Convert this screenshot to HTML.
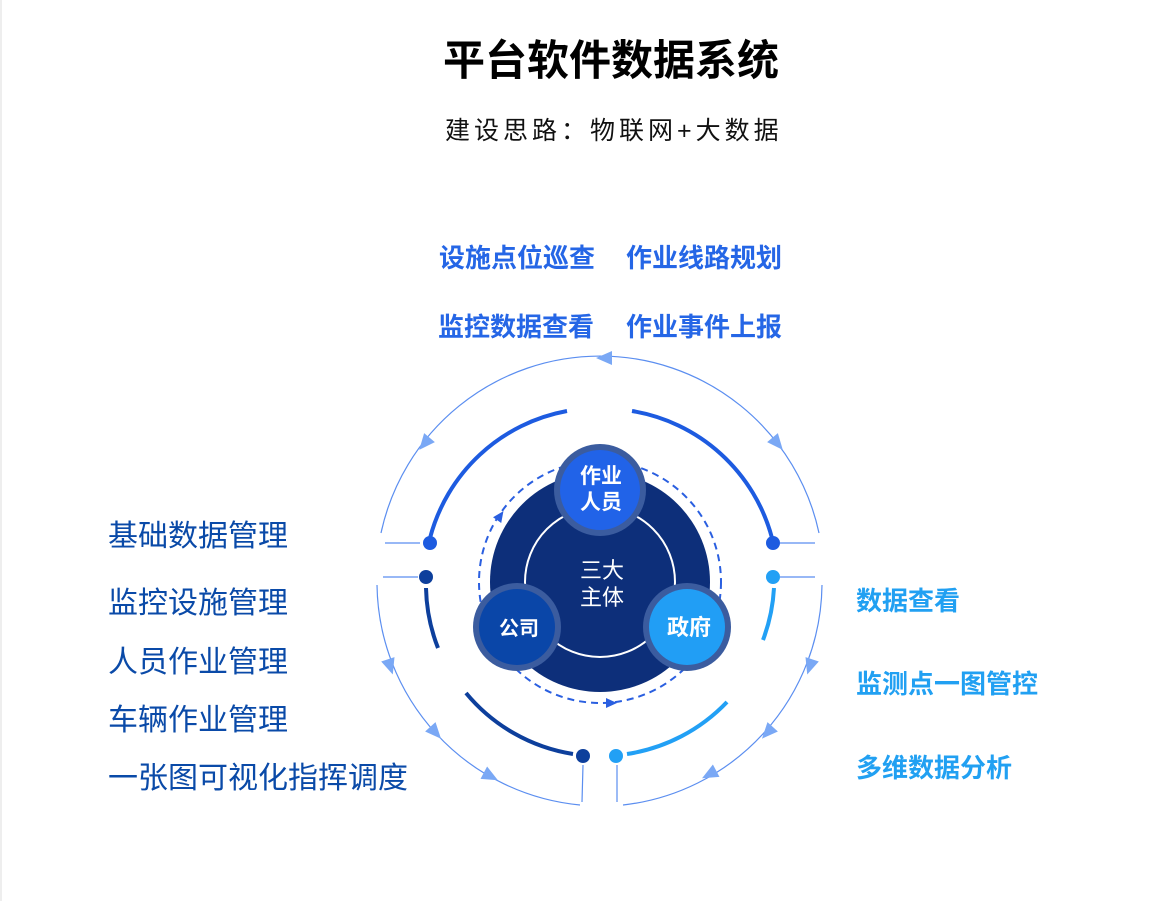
<!DOCTYPE html>
<html><head><meta charset="utf-8"><style>
html,body{margin:0;padding:0;background:#fff;}
body{width:1149px;height:901px;position:relative;overflow:hidden;font-family:"Liberation Sans","Noto Sans CJK SC",sans-serif;}
.t{position:absolute;white-space:nowrap;line-height:1;}
</style></head><body>
<div style="position:absolute;left:0;top:0;width:2px;height:901px;background:#eee"></div>
<div class="t" style="left:443px;top:40px;font-size:42px;font-weight:bold;color:#000">平台软件数据系统</div>
<div class="t" style="left:445px;top:119px;font-size:25px;color:#111;letter-spacing:4px">建设思路：物联网+大数据</div>

<div class="t" style="left:439px;top:245px;font-size:26px;font-weight:bold;color:#2566e6">设施点位巡查</div>
<div class="t" style="left:626px;top:245px;font-size:26px;font-weight:bold;color:#2566e6">作业线路规划</div>
<div class="t" style="left:438px;top:314px;font-size:26px;font-weight:bold;color:#2566e6">监控数据查看</div>
<div class="t" style="left:626px;top:314px;font-size:26px;font-weight:bold;color:#2566e6">作业事件上报</div>

<div class="t" style="left:108px;top:522px;font-size:30px;color:#0a4aa8">基础数据管理</div>
<div class="t" style="left:108px;top:589px;font-size:30px;color:#0a4aa8">监控设施管理</div>
<div class="t" style="left:108px;top:648px;font-size:30px;color:#0a4aa8">人员作业管理</div>
<div class="t" style="left:108px;top:706px;font-size:30px;color:#0a4aa8">车辆作业管理</div>
<div class="t" style="left:108px;top:764px;font-size:30px;color:#0a4aa8">一张图可视化指挥调度</div>

<div class="t" style="left:856px;top:588px;font-size:26px;font-weight:bold;color:#21a0f2">数据查看</div>
<div class="t" style="left:856px;top:671px;font-size:26px;font-weight:bold;color:#21a0f2">监测点一图管控</div>
<div class="t" style="left:856px;top:755px;font-size:26px;font-weight:bold;color:#21a0f2">多维数据分析</div>

<svg width="1149" height="901" style="position:absolute;left:0;top:0">
<g fill="none" stroke="#5b8ef0" stroke-width="1.2">
<path d="M381,533 A224,224 0 0 1 819,533"/>
<path d="M377,585 A224,224 0 0 0 580,805"/>
<path d="M623,805 A224,224 0 0 0 822,585"/>
<path d="M385,543 L420,543 M383,577 L418,577 M780,543 L815,543 M780,577 L815,577 M583,765 L582,802 M617,765 L617,802"/>
</g>
<g fill="#7aa8f5">
<polygon points="-7,-7 9,0 -7,7" transform="translate(605,358) rotate(180)"/>
<polygon points="-7,-7 9,0 -7,7" transform="translate(425,443) rotate(130)"/>
<polygon points="-7,-7 9,0 -7,7" transform="translate(777,443) rotate(50)"/>
<polygon points="-7,-7 9,0 -7,7" transform="translate(390,666) rotate(72)"/>
<polygon points="-7,-7 9,0 -7,7" transform="translate(435,732) rotate(48)"/>
<polygon points="-7,-7 9,0 -7,7" transform="translate(490,776) rotate(28)"/>
<polygon points="-7,-7 9,0 -7,7" transform="translate(810,666) rotate(108)"/>
<polygon points="-7,-7 9,0 -7,7" transform="translate(768,732) rotate(132)"/>
<polygon points="-7,-7 9,0 -7,7" transform="translate(710,774) rotate(152)"/>
</g>
<g fill="none" stroke-width="4" stroke-linecap="butt">
<path d="M430,538 A174,174 0 0 1 567,411" stroke="#1d5be0"/>
<path d="M632,411 A174,174 0 0 1 772,538" stroke="#1d5be0"/>
<path d="M426,588 A174,174 0 0 0 438,648" stroke="#0d3f9c"/>
<path d="M466,693 A174,174 0 0 0 573,754" stroke="#0d3f9c"/>
<path d="M774,588 A174,174 0 0 1 763,640" stroke="#22a0f5"/>
<path d="M727,702 A174,174 0 0 1 627,754" stroke="#22a0f5"/>
</g>
<circle cx="430" cy="543" r="7" fill="#1d5be0"/>
<circle cx="773" cy="543" r="7" fill="#1d5be0"/>
<circle cx="426" cy="577" r="7" fill="#0d3f9c"/>
<circle cx="773" cy="577" r="7" fill="#22a0f5"/>
<circle cx="583" cy="756" r="7" fill="#0d3f9c"/>
<circle cx="616" cy="756" r="7" fill="#22a0f5"/>

<circle cx="600" cy="582" r="121" fill="none" stroke="#2a5fe0" stroke-width="2" stroke-dasharray="7 5"/>
<circle cx="600" cy="582" r="110" fill="#0d2f7a"/>
<circle cx="600" cy="582" r="75" fill="none" stroke="#fff" stroke-width="2"/>
<polygon points="-5,-5 6,0 -5,5" fill="#2a5fe0" transform="translate(500,516) rotate(-55)"/>
<polygon points="-5,-5 6,0 -5,5" fill="#2a5fe0" transform="translate(611,703) rotate(0)"/>

<circle cx="600" cy="490" r="46" fill="#3b5c9f"/>
<circle cx="600" cy="490" r="40" fill="#2163e8"/>
<circle cx="517" cy="627" r="44" fill="#3b5c9f"/>
<circle cx="517" cy="627" r="38" fill="#0a46a8"/>
<circle cx="687" cy="627" r="44" fill="#3b5c9f"/>
<circle cx="687" cy="627" r="38" fill="#219ef5"/>
<g fill="#fff" font-family="Liberation Sans,Noto Sans CJK SC,sans-serif" text-anchor="middle">
<text x="601" y="483" font-size="21" font-weight="bold">作业</text>
<text x="601" y="509" font-size="21" font-weight="bold">人员</text>
<text x="519" y="635" font-size="20" font-weight="bold">公司</text>
<text x="689" y="635" font-size="22" font-weight="bold">政府</text>
<text x="602" y="578" font-size="22">三大</text>
<text x="602" y="605" font-size="22">主体</text>
</g>
</svg>
</body></html>
